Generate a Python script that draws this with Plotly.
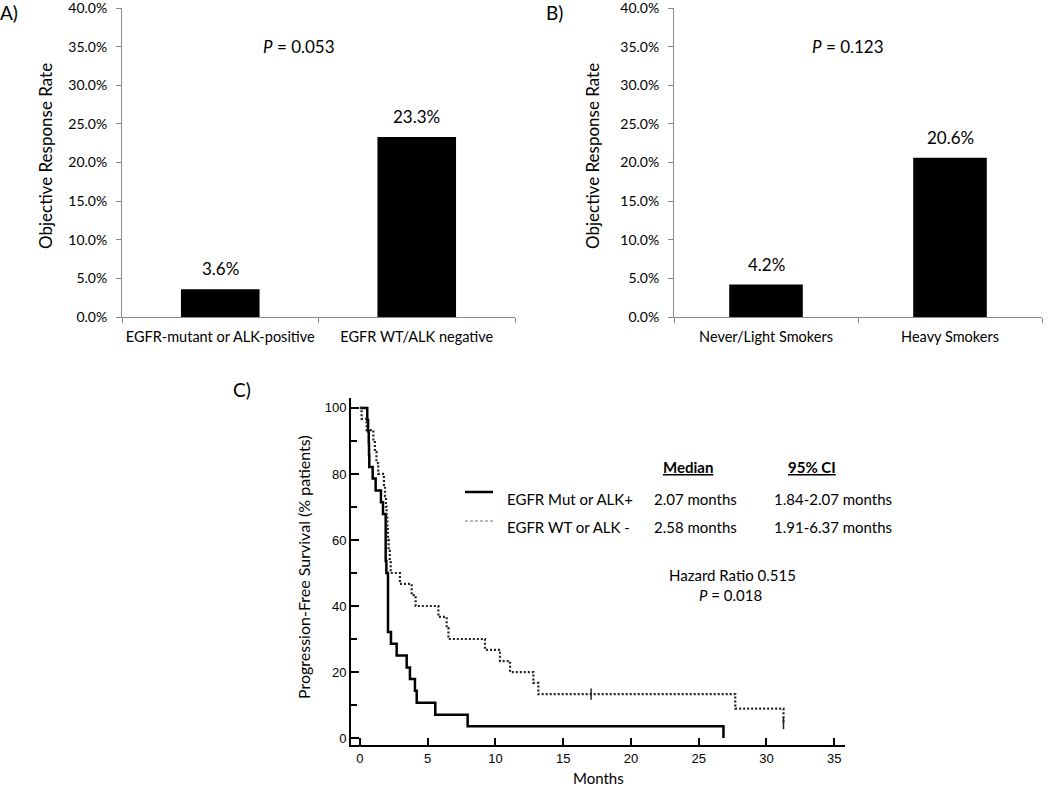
import plotly.graph_objects as go

W, H = 1050, 788

# ---------------- data ----------------
catA = ["EGFR-mutant or ALK-positive", "EGFR WT/ALK negative"]
orrA = [3.6, 23.3]
catB = ["Never/Light Smokers", "Heavy Smokers"]
orrB = [4.2, 20.6]
pA, pB = "0.053", "0.123"
orr_ticks = [0, 5, 10, 15, 20, 25, 30, 35, 40]

# Kaplan-Meier PFS (months, % patients)
mut_t = [0, 0.54, 0.60, 0.65, 0.67, 0.69, 0.94, 1.16, 1.55, 1.70, 1.90, 1.95, 2.07, 2.29, 2.71,
         3.45, 3.69, 4.06, 4.19, 5.56, 7.95, 26.83]
mut_s = [100, 96.4, 92.9, 89.3, 85.7, 82.1, 78.6, 75.0, 71.4, 67.9, 53.6, 50.0, 32.1, 28.6, 25.0,
         21.4, 17.9, 14.3, 10.7, 7.1, 3.6, 0.0]
wt_t = [0, 0.12, 0.49, 0.99, 1.10, 1.22, 1.35, 1.77, 1.85, 1.92, 1.97, 2.02, 2.07, 2.12, 2.20,
        2.27, 2.95, 3.82, 4.11, 5.79, 6.40, 6.53, 9.23, 10.34, 11.08, 12.80, 13.17, 27.70, 31.26]
wt_s = [100, 96.7, 93.3, 90.0, 86.7, 83.3, 80.0, 76.7, 73.3, 70.0, 66.7, 63.3, 60.0, 56.7, 53.3,
        50.0, 46.7, 43.3, 40.0, 36.7, 33.3, 30.0, 26.7, 23.3, 20.0, 16.7, 13.3, 8.9, 4.4]
wt_cens_t = [17.06, 31.26]
wt_cens_s = [13.3, 4.4]
km_xticks = [0, 5, 10, 15, 20, 25, 30, 35]
km_yticks = [0, 20, 40, 60, 80, 100]
km_yminor = [10, 30, 50, 70, 90]

legend_names = ["EGFR Mut or ALK+", "EGFR WT or ALK -"]
medians = ["2.07 months", "2.58 months"]
cis = ["1.84-2.07 months", "1.91-6.37 months"]
hazard = "0.515"
pC = "0.018"

# ---------------- helpers ----------------
def px(x):
    return x / W

def py(y):
    return 1 - y / H

CAL = "Lato, 'Open Sans', sans-serif"
ARIAL = "'Liberation Sans', Arial, sans-serif"
GRAY = "#8a8a8a"

fig = go.Figure()

fig.add_trace(go.Bar(x=catA, y=orrA, width=0.4, marker=dict(color="black", line=dict(width=0)),
                     xaxis="x", yaxis="y", showlegend=False))
fig.add_trace(go.Bar(x=catB, y=orrB, width=0.4, marker=dict(color="black", line=dict(width=0)),
                     xaxis="x2", yaxis="y2", showlegend=False))

fig.add_trace(go.Scatter(x=mut_t, y=mut_s, mode="lines", line=dict(shape="hv", color="black", width=2.5),
                         xaxis="x3", yaxis="y3", showlegend=False))
fig.add_trace(go.Scatter(x=wt_t, y=wt_s, mode="lines",
                         line=dict(shape="hv", color="#222222", width=2.2, dash="2px,2px"),
                         xaxis="x3", yaxis="y3", showlegend=False))
fig.add_trace(go.Scatter(x=wt_cens_t, y=wt_cens_s, mode="markers",
                         marker=dict(symbol="line-ns", size=8, line=dict(color="#222222", width=1.5)),
                         xaxis="x3", yaxis="y3", showlegend=False))

bar_x = dict(showline=True, linecolor=GRAY, linewidth=1, ticks="outside", tickson="boundaries",
             ticklen=5, tickcolor=GRAY, showgrid=False, zeroline=False, tickangle=0,
             automargin=False, tickfont=dict(family=CAL, size=14.5, color="black"),
             ticklabelstandoff=7)
bar_y = dict(range=[0, 40], tickvals=orr_ticks, ticktext=[f"{v:.1f}%" for v in orr_ticks],
             showline=True, linecolor=GRAY, linewidth=1, ticks="outside", ticklen=5, tickcolor=GRAY,
             showgrid=False, zeroline=False, automargin=False, ticklabeloverflow="allow",
             tickfont=dict(family=CAL, size=14, color="black"), ticklabelstandoff=6)

ytop, ybot = py(8), py(317)
fig.update_layout(
    width=W, height=H, autosize=False,
    margin=dict(l=0, r=0, t=0, b=0, pad=0, autoexpand=False),
    paper_bgcolor="white", plot_bgcolor="white",
    xaxis=dict(domain=[px(122), px(515)], anchor="y", **bar_x),
    yaxis=dict(domain=[ybot, ytop], anchor="x", **bar_y),
    xaxis2=dict(domain=[px(674), px(1042)], anchor="y2", **bar_x),
    yaxis2=dict(domain=[ybot, ytop], anchor="x2", **bar_y),
    xaxis3=dict(domain=[px(351), px(845)], anchor="y3", range=[-0.66, 35.8],
                tickvals=km_xticks, ticks="inside", ticklen=7, tickwidth=2, automargin=False,
                tickcolor="black", showline=True, linecolor="black", linewidth=2, showgrid=False,
                zeroline=False, ticklabeloverflow="allow",
                tickfont=dict(family=ARIAL, size=13, color="black")),
    yaxis3=dict(domain=[py(745), py(398)], anchor="x3", range=[-2.1, 103],
                tickvals=km_yticks, ticks="inside", ticklen=8, tickwidth=2, automargin=False,
                tickcolor="black", showline=True, linecolor="black", linewidth=2, showgrid=False,
                zeroline=False, ticklabeloverflow="allow",
                tickfont=dict(family=ARIAL, size=13, color="black"),
                minor=dict(tickvals=km_yminor, ticks="inside", ticklen=6, tickwidth=2,
                           tickcolor="black")),
)

ann = []
# bar value labels
for cats, vals, xa, ya in [(catA, orrA, "x", "y"), (catB, orrB, "x2", "y2")]:
    for c, v in zip(cats, vals):
        ann.append(dict(x=c, y=v, xref=xa, yref=ya, text=f"{v:.1f}%", showarrow=False,
                        xanchor="center", yanchor="bottom", yshift=8,
                        font=dict(family=CAL, size=17, color="black")))

def txt(x, y, t, size=15, family=CAL, xanchor="center", **kw):
    d = dict(x=px(x), y=py(y), xref="paper", yref="paper", text=t, showarrow=False,
             xanchor=xanchor, yanchor="middle",
             font=dict(family=family, size=size, color="black"))
    d.update(kw)
    return d

ann += [
    txt(9, 12, "A)", size=19),
    txt(554, 13, "B)", size=19),
    txt(242, 389, "C)", size=19),
    txt(299, 46, f"<i>P</i> = {pA}", size=17),
    txt(848, 46, f"<i>P</i> = {pB}", size=17),
    txt(45, 156, "Objective Response Rate", size=17, textangle=-90),
    txt(592, 156, "Objective Response Rate", size=17, textangle=-90),
    txt(303, 567, "Progression-Free Survival (% patients)", size=16, textangle=-90),
    txt(598, 778, "Months", size=15),
    txt(661, 467, "<b>Median</b>", xanchor="left",
        font=dict(family=CAL, size=15, color="black", lineposition="under")),
    txt(786, 467, "<b>95% CI</b>", xanchor="left",
        font=dict(family=CAL, size=15, color="black", lineposition="under")),
    txt(505, 499, legend_names[0], xanchor="left"),
    txt(505, 527, legend_names[1], xanchor="left"),
    txt(652, 499, medians[0], xanchor="left"),
    txt(652, 527, medians[1], xanchor="left"),
    txt(772, 499, cis[0], xanchor="left"),
    txt(772, 527, cis[1], xanchor="left"),
    txt(732, 575, f"Hazard Ratio {hazard}"),
    txt(730, 595, f"<i>P</i> = {pC}"),
]
fig.update_layout(annotations=ann)

fig.update_layout(shapes=[
    dict(type="line", xref="paper", yref="paper", x0=px(465), x1=px(493), y0=py(492), y1=py(492),
         line=dict(color="black", width=2.5)),
    dict(type="line", xref="paper", yref="paper", x0=px(465), x1=px(493), y0=py(521), y1=py(521),
         line=dict(color="#777777", width=1, dash="3px,2px")),
])

fig.write_html("out.html", config={"responsive": False, "displayModeBar": False},
               post_script="document.body.style.margin='0';document.body.style.overflow='hidden';")
